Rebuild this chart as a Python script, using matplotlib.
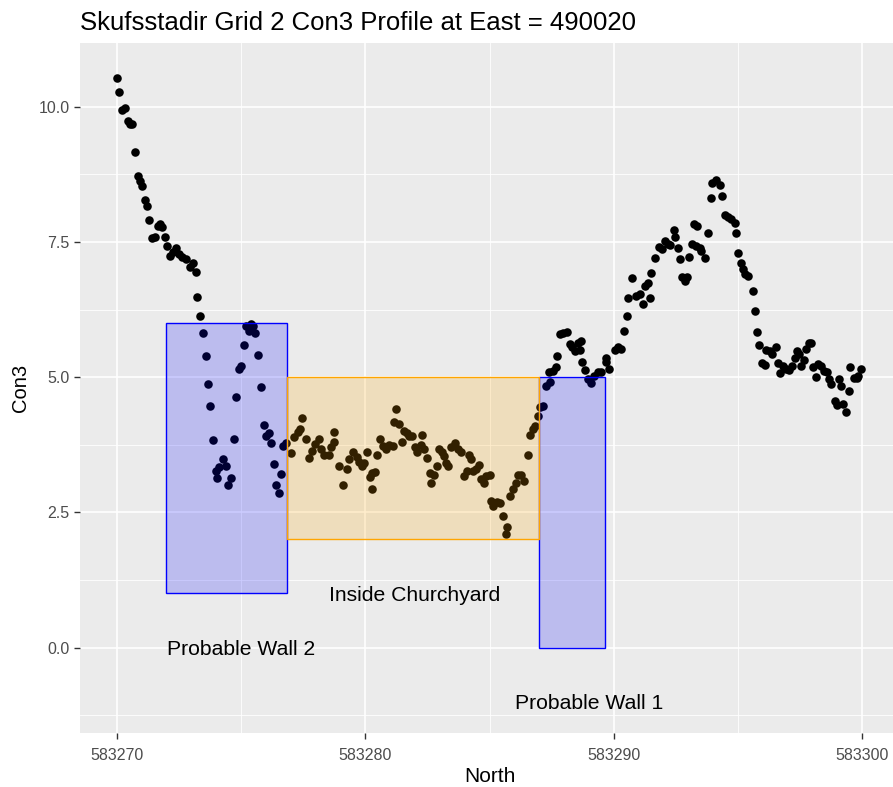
import numpy as np
import matplotlib
matplotlib.use("Agg")
import matplotlib.pyplot as plt
from matplotlib.patches import Rectangle
from matplotlib.ticker import MultipleLocator

plt.rcParams["font.family"] = ["Liberation Sans", "DejaVu Sans"]

# Con3 readings along the profile (North given as offset from 583270)
north_offset = [
    0.01, 0.08, 0.19, 0.32, 0.42, 0.51, 0.59, 0.71, 0.83, 0.91, 0.99, 1.11, 1.19,
    1.29, 1.42, 1.53, 1.63, 1.73, 1.80, 1.94, 2.00, 2.12, 2.26, 2.37, 2.50, 2.63,
    2.77, 2.93, 3.06, 3.17, 3.21, 3.33, 3.47, 3.58, 3.64, 3.75, 3.87, 3.98, 4.04,
    4.11, 4.27, 4.38, 4.45, 4.58, 4.69, 4.80, 4.89, 4.99, 5.09, 5.19, 5.29, 5.39,
    5.48, 5.56, 5.69, 5.79, 5.91, 5.99, 6.10, 6.21, 6.32, 6.38, 6.51, 6.61, 6.67,
    6.80,
    7.00, 7.14, 7.27, 7.37, 7.45, 7.61, 7.74, 7.85, 7.98, 8.12, 8.21, 8.35, 8.52,
    8.62, 8.72, 8.75, 8.95, 9.11, 9.25, 9.35, 9.49, 9.65, 9.76, 9.87, 9.96, 10.07,
    10.19, 10.25, 10.27, 10.38, 10.47, 10.59, 10.70, 10.83, 10.97, 11.10, 11.17,
    11.23, 11.34, 11.48, 11.57, 11.67, 11.77, 11.88, 11.98, 12.07, 12.25, 12.28,
    12.38, 12.47, 12.61, 12.65, 12.78, 12.88, 12.96, 13.08, 13.15, 13.25, 13.32,
    13.46, 13.59, 13.72, 13.86, 13.99, 14.08, 14.19, 14.26, 14.33, 14.46, 14.57,
    14.67, 14.76, 14.87, 15.00, 15.07, 15.16, 15.29, 15.43, 15.56, 15.67, 15.70,
    15.83, 15.94, 16.05, 16.14, 16.28, 16.41, 16.54, 16.64, 16.75, 16.84, 16.95,
    17.02, 17.15, 17.26, 17.39, 17.42, 17.55, 17.69, 17.73, 17.85, 17.98, 18.12,
    18.23, 18.33, 18.43, 18.56, 18.66, 18.70, 18.74, 18.83, 18.97, 19.10, 19.23,
    19.37, 19.50, 19.68, 19.70, 19.81,
    20.04, 20.17, 20.31, 20.40, 20.54, 20.60, 20.74, 20.91, 21.05, 21.18, 21.28,
    21.38, 21.48, 21.52, 21.65, 21.83, 21.96, 22.06, 22.19, 22.29, 22.42, 22.47,
    22.59, 22.69, 22.77, 22.86, 22.96, 23.04, 23.17, 23.23, 23.33, 23.36, 23.47,
    23.53, 23.67, 23.81, 23.94, 23.98, 24.14, 24.27, 24.38, 24.48, 24.61, 24.74,
    24.88, 24.92, 25.01, 25.15, 25.21, 25.28, 25.42, 25.62, 25.69, 25.79, 25.86,
    25.96, 26.09, 26.16, 26.29, 26.40, 26.56, 26.62, 26.72, 26.83, 26.96, 27.07,
    27.20, 27.30, 27.37, 27.47, 27.57, 27.66, 27.77, 27.86, 27.97, 28.04, 28.15,
    28.24, 28.37, 28.48, 28.58, 28.68, 28.78, 28.91, 29.00, 29.09, 29.18, 29.25,
    29.35, 29.49, 29.54, 29.68, 29.79, 29.85, 29.95,
]
con3 = [
    10.54, 10.27, 9.95, 9.98, 9.74, 9.68, 9.68, 9.17, 8.72, 8.62, 8.53, 8.28, 8.17,
    7.91, 7.57, 7.59, 7.80, 7.84, 7.77, 7.59, 7.43, 7.25, 7.31, 7.38, 7.28, 7.23,
    7.19, 7.03, 7.11, 6.95, 6.49, 6.14, 5.81, 5.39, 4.88, 4.47, 3.83, 3.27, 3.14,
    3.33, 3.49, 3.35, 3.00, 3.14, 3.85, 4.64, 5.16, 5.20, 5.60, 5.95, 5.86, 5.98,
    5.95, 5.81, 5.41, 4.82, 4.12, 3.91, 3.96, 3.78, 3.40, 3.00, 2.86, 3.21, 3.73,
    3.79,
    3.59, 3.90, 3.99, 4.04, 4.25, 3.85, 3.51, 3.64, 3.76, 3.85, 3.67, 3.57, 3.56,
    3.70, 3.99, 3.80, 3.35, 3.00, 3.30, 3.49, 3.62, 3.53, 3.43, 3.36, 3.42, 3.62,
    3.16, 2.94, 3.23, 3.25, 3.56, 3.85, 3.73, 3.67, 3.74, 3.73, 4.17,
    4.42, 4.13, 3.80, 4.01, 3.96, 3.91, 3.91, 3.70, 3.62, 3.74, 3.94,
    3.68, 3.51, 3.23, 3.05, 3.19, 3.36, 3.67, 3.62, 3.54, 3.42, 3.35,
    3.70, 3.79, 3.67, 3.61, 3.18, 3.27, 3.56, 3.48, 3.27, 3.31, 3.37,
    3.11, 3.05, 3.18, 3.19, 2.71, 2.62, 2.69, 2.67, 2.43, 2.10, 2.23,
    2.80, 2.93, 3.04, 3.20, 3.19, 3.08, 3.56, 3.93, 4.04, 4.10, 4.28,
    4.44, 4.47, 4.84, 5.09, 4.91, 5.12, 5.18, 5.40, 5.80, 5.81, 5.83,
    5.61, 5.55, 5.49, 5.64, 5.51, 5.67, 5.28, 5.14, 4.96, 4.90, 5.02,
    5.09, 5.10, 5.28, 5.35, 5.15,
    5.51, 5.55, 5.53, 5.86, 6.14, 6.46, 6.83, 6.51, 6.54, 6.35, 6.69,
    6.74, 6.46, 6.92, 7.21, 7.40, 7.37, 7.52, 7.46, 7.44, 7.72, 7.59,
    7.38, 7.19, 6.86, 6.77, 6.86, 7.22, 7.46, 7.83, 7.43, 7.80, 7.38,
    7.34, 7.20, 7.67, 8.31, 8.59, 8.65, 8.56, 8.35, 7.99, 7.96, 7.93,
    7.86, 7.67, 7.29, 7.11, 7.00, 6.91, 6.88, 6.59, 6.22, 5.83, 5.60,
    5.26, 5.22, 5.51, 5.49, 5.43, 5.55, 5.26, 5.07, 5.20, 5.16, 5.14,
    5.21, 5.36, 5.49, 5.43, 5.20, 5.32, 5.53, 5.63, 5.63, 5.18, 5.01,
    5.24, 5.20, 5.12, 5.09, 4.96, 4.87, 4.56, 4.48, 4.96, 4.84, 4.50,
    4.36, 4.75, 5.18, 4.99, 4.99, 5.02, 5.15,
]
north = 583270 + np.array(north_offset)

# zones along the profile: (xmin, xmax, ymin, ymax)
wall_zones = [
    (583271.95, 583276.85, 1.0, 6.0),
    (583287.0, 583289.65, 0.0, 5.0),
]
churchyard_zone = (583276.85, 583287.0, 2.0, 5.0)

zone_labels = ["Probable Wall 2", "Inside Churchyard", "Probable Wall 1"]
label_north = [583275, 583282, 583289]
label_con3 = [0.0, 1.0, -1.0]

fig = plt.figure(figsize=(8.93, 7.87), dpi=100)
ax = fig.add_axes([80 / 893, 54 / 787, 819 / 893, 690 / 787])
ax.set_facecolor("#EBEBEB")
for s in ax.spines.values():
    s.set_visible(False)

ax.set_xlim(583268.5, 583301.5)
ax.set_ylim(-1.58, 11.18)
ax.xaxis.set_major_locator(MultipleLocator(10))
ax.xaxis.set_minor_locator(MultipleLocator(5))
ax.yaxis.set_major_locator(MultipleLocator(2.5))
ax.yaxis.set_minor_locator(MultipleLocator(1.25))
ax.grid(which="major", color="white", linewidth=1.2)
ax.grid(which="minor", color="white", linewidth=0.6)
ax.set_axisbelow(True)

ax.scatter(north, con3, s=38, color="black", linewidths=0, zorder=2)

def draw_zone(zone, colour):
    x0, x1, y0, y1 = zone
    ax.add_patch(Rectangle((x0, y0), x1 - x0, y1 - y0, facecolor=colour,
                           alpha=0.2, edgecolor="none", zorder=3))
    ax.add_patch(Rectangle((x0, y0), x1 - x0, y1 - y0, facecolor="none",
                           edgecolor=colour, linewidth=1.0, zorder=3))

for zone in wall_zones:
    draw_zone(zone, "blue")
draw_zone(churchyard_zone, "orange")

for txt, x, y in zip(zone_labels, label_north, label_con3):
    ax.text(x, y, txt, ha="center", va="center_baseline", fontsize=15.2,
            color="black", zorder=4)

ax.ticklabel_format(useOffset=False, style="plain")
ax.tick_params(which="major", length=4, width=1, color="#333333",
               labelcolor="#4D4D4D", labelsize=11.5)
ax.tick_params(axis="x", which="major", pad=7)
ax.tick_params(which="minor", length=0)
ax.set_xlabel("North", fontsize=15, labelpad=3)
ax.set_ylabel("Con3", fontsize=14.5, labelpad=6)
ax.set_title("Skufsstadir Grid 2 Con3 Profile at East = 490020", fontsize=18.5,
             loc="left", pad=9)

fig.savefig("out.png", dpi=100)
